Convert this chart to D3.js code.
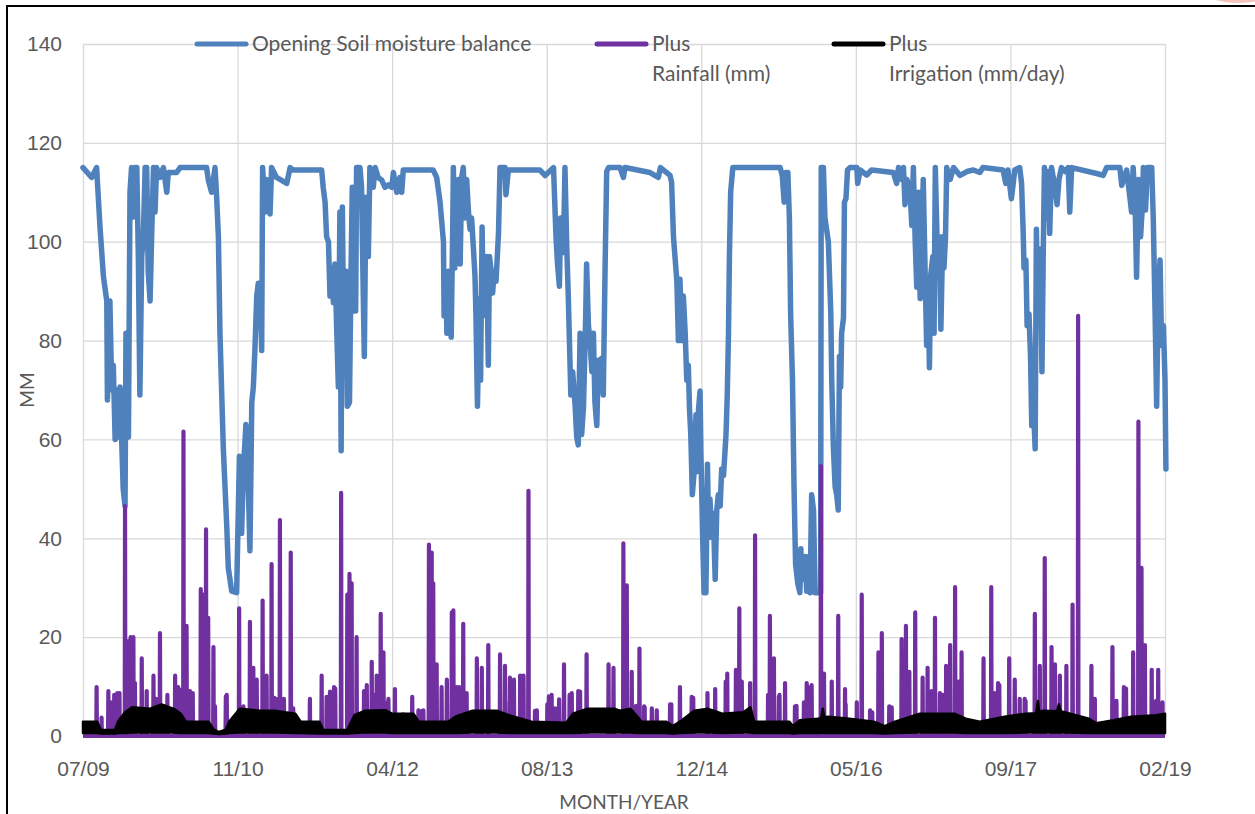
<!DOCTYPE html>
<html>
<head>
<meta charset="utf-8">
<script src="https://cdn.jsdelivr.net/npm/d3@7"></script>
<style>
  body { margin: 0; background: #fff; }
  svg { display: block; font-family: Lato, "Open Sans", sans-serif; }
  .tick text { fill: #595959; font-size: 21px; }
  .grid line { stroke: #d9d9d9; stroke-width: 1.3; }
</style>
</head>
<body>
<div id="chart"></div>
<script>
// x positions are day offsets from the first day (07/09); axis labels every 500 days
var xTickDays = [0, 500, 1000, 1500, 2000, 2500, 3000, 3500];
var xTickLabels = ["07/09", "11/10", "04/12", "08/13", "12/14", "05/16", "09/17", "02/19"];
var yTicks = [0, 20, 40, 60, 80, 100, 120, 140];

// opening soil moisture balance (mm): [day, value]
var soil = [
  [0,115],[28,113],[44,115],[55,103],[66,93],[77,88],[79,68],[87,88],[93,70],[98,75],[104,60],[109,70],[114,60.5],[120,70.6],[125,60],[130,50],[136,46.5],[139,81.5],[147,60.5],[152,110],[157,115],[163,105],[168,115],[174,115],[179,97],[184,69],[190,97],[195,101],[201,115],[206,115],[211,94],[217,88],[222,101],[228,115],[233,106],[238,115],[249,113],[260,115],[271,110],[276,114],[303,114],[314,115],[400,115],[405,112.6],[416,110],[427,115],[432,109.5],[438,101],[443,81.5],[454,58],[465,42.5],[470,34],[481,29.3],[497,29],[506,56.6],[513,41],[519,54],[527,63],[535,50],[540,37.5],[546,67.5],[551,70.6],[556,78],[562,89],[567,91.6],[573,91.6],[578,78],[581,115],
  [589,106],[594,112.6],[605,105.6],[610,115],[626,113],[659,111.8],[670,115],[680,114.5],[772,114.5],[777,111],[783,108],[788,101],[794,100],[799,89],[804,94.7],[810,87.7],[815,95.5],[821,81.5],[826,70.6],[831,106],[835,57.7],[839,107],[844,75],[851,94],[855,66.7],[862,67.5],[867,94],[871,111],[878,86],[882,86],[885,115],[896,115],[901,111],[907,87.7],[910,76.8],[915,109],[923,97],[928,115],[939,111],[945,115],[955,113],[966,112.5],[977,111],[988,111.5],[999,111],[1004,114],[1015,110],[1025,113],[1031,110],[1036,114.5],[1133,114.5],[1144,113],[1155,108],[1166,100],
  [1168,85],[1174,92],[1177,81.5],[1182,94],[1191,80.7],[1196,103],[1198,115],[1203,94.7],[1209,103],[1214,112.6],[1220,95.5],[1225,113],[1230,115],[1236,104.8],[1241,112.6],[1247,106],[1252,102.5],[1257,104.8],[1263,98.6],[1268,93],[1271,85.4],[1276,66.7],[1282,88.5],[1286,72],[1291,103],[1295,85],[1301,89],[1306,97],[1311,75],[1315,97],[1319,94.7],[1325,89.6],[1330,94],[1336,92],[1344,101.7],[1349,115],[1365,115],[1368,109.5],[1376,114.5],[1478,114.5],[1495,113.4],[1522,115],[1530,101],[1535,95.5],[1541,91],[1545,104.8],[1554,97.8],[1559,115],[1565,98.6],[1570,88.5],[1578,69],[1584,73.7],[1592,66.7],[1597,60.5],[1602,58.9],[1608,81.5],[1613,61],[1619,66.7],[1626,84.6],[1629,95.5],[1635,83],[1640,80],[1646,73.7],[1651,81.5],[1656,67.5],[1662,62.8],[1667,76],[1673,69.8],[1678,76.4],[1683,69],[1689,95.5],[1694,114.2],[1700,115],
  [1737,115],[1748,113],[1753,115],[1834,114],[1861,113],[1868,115],[1899,113.4],[1904,112],[1910,101],[1921,92],[1926,80],[1931,92.4],[1937,80],[1942,89],[1948,81.5],[1953,72],[1958,75],[1962,66],[1966,61],[1971,48.8],[1977,53.5],[1983,65],[1987,53.5],[1991,66],[1996,69.8],[1999,56.6],[2005,38.7],[2009,29],[2015,29],[2020,55],[2024,40.2],[2028,48],[2034,40.2],[2039,45],[2045,31.7],[2050,45.7],[2055,48.8],[2061,46.5],[2066,54],[2072,52.7],[2080,61],[2084,69],[2088,81.5],[2091,97],[2095,110],[2102,115],[2255,115],[2262,113.4],[2268,108],[2273,114],[2280,114],[2285,104.8],[2289,85.4],[2295,72],[2300,50.4],[2305,34.8],[2312,30.9],[2319,29],
  [2322,37.9],[2325,31.7],[2330,34],[2336,36.3],[2341,29.3],[2346,36.3],[2352,29],[2357,48.8],[2363,45.7],[2368,29],[2386,29],[2388,115],[2395,115],[2400,104.8],[2411,100],[2419,85.4],[2422,72],[2427,58.9],[2433,50.4],[2438,48.8],[2443,45.7],[2447,76.8],[2451,70.6],[2454,81.5],[2460,84.6],[2463,108],[2468,108.7],[2473,114.5],[2481,115],[2503,115],[2506,111.8],[2514,114.5],[2535,113.5],[2551,114.5],[2621,114],[2632,111.8],[2638,115],[2648,112.6],[2654,115],[2659,107.5],[2665,112.6],[2675,110.7],[2681,103.3],[2686,115],[2692,100],[2697,90.8],[2702,110],[2708,88.5],[2713,100],[2718,112.6],[2724,94],[2729,79],[2735,85.4],[2738,74.5],[2742,93.2],[2749,97],[2753,81.5],[2757,115],[2764,97],[2770,101],[2775,82.3],[2781,101],[2785,94.7],[2790,101],[2794,115],[2805,112.6],[2816,115],[2837,113.4],[2859,114.2],[2880,114.5],
  [2901,114],[2911,115],[2976,114.5],[2985,111.8],[2992,114.5],[3003,108.7],[3009,111.8],[3014,114.5],[3030,115],[3036,111.8],[3041,102.5],[3044,94.7],[3050,96.3],[3054,83],[3060,85.4],[3065,76.8],[3069,62.8],[3076,64.4],[3080,58.1],[3084,102.5],[3089,83],[3093,98.6],[3097,97.8],[3102,73.7],[3106,97],[3110,115],[3117,104.8],[3122,114.2],[3127,101.7],[3133,115],[3144,111],[3151,107.5],[3157,112.6],[3165,115],[3176,114.2],[3187,115],[3192,106],[3198,115],[3279,113.8],[3300,113.4],[3311,115],[3354,115],[3360,111.4],[3376,114.5],[3392,106],[3397,115],[3403,108.7],[3408,92.8],[3414,112.6],[3421,101],[3427,107.5],[3430,115],[3437,106.4],[3443,115],[3457,115],[3462,104.8],[3468,85.4],[3473,66.7],[3478,89.3],[3484,96.3],[3489,79],[3495,83],[3500,72],[3503,54]
];

// rainfall (mm): wet days [day, value]; all other days ~0
var rain = [
  [44,9.9],[60,3.7],[82,9.1],[93,6.8],[101,8.3],[111,8.7],[118,8.7],[136,46.5],[147,19.2],[154,20],[163,20],[168,10.7],[190,15.7],[206,9.1],[228,12.2],[236,7.5],[249,20.8],[260,6],[273,8.3],[298,12.2],[308,9.9],[316,9.3],[325,61.6],[335,22.3],[346,9.1],[355,8.7],[381,29.7],[389,28.6],[398,41.8],[405,23.9],[422,18],[427,6],[462,8],[465,8.3],[505,25.8],[519,6],[540,23.1],[551,13.8],[562,11.4],[581,27.4],
  [594,12.2],[610,34.8],[619,7.7],[624,7.5],[637,43.7],[650,7.5],[672,37.1],[680,5.6],[734,7.5],[772,12.2],[788,7.9],[797,6.8],[799,9],[812,9.9],[816,9.6],[835,49.2],[855,28.6],[862,32.8],[869,30.9],[885,20],[909,9.1],[918,10.3],[934,15],[945,8.3],[950,12.2],[963,24.7],[972,16.9],[979,6.7],[988,7.5],[1009,9.5],[1036,4.4],[1065,7.9],[1085,5.2],[1097,5.1],[1101,5.2],[1119,38.7],[1128,37.1],[1133,30.9],[1144,14.5],[1160,9.9],
  [1177,11.4],[1193,25],[1198,25.4],[1209,9.9],[1217,9.9],[1226,8],[1230,22.7],[1241,8.7],[1274,15.7],[1290,13.8],[1311,18.4],[1349,16.5],[1365,14.2],[1366,7],[1381,11.8],[1394,11.4],[1414,12.2],[1425,12.2],[1441,49.6],[1462,5.1],[1468,5.2],[1502,6.4],[1507,8],[1516,8.3],[1527,5.6],[1540,7.4],[1556,14.5],[1574,8.3],[1581,8.7],[1602,9.1],[1608,9],[1629,16.5],[1700,14.5],[1716,13.8],[1748,39],
  [1759,30.5],[1775,13],[1789,6.1],[1800,17.7],[1815,6],[1817,5.8],[1840,5.6],[1856,5.2],[1899,6.4],[1903,6.4],[1931,9.9],[1969,7.9],[1974,7.7],[2020,8.7],[2045,9.5],[2079,11],[2084,12.6],[2112,13.4],[2123,25.8],[2131,11],[2158,10.7],[2174,40.6],[2216,8.3],[2222,24.3],[2235,15.7],[2251,8],[2253,8.3],[2271,10.7],[2303,6],[2308,6.1],[2332,6.8],
  [2341,10.7],[2353,9.9],[2357,10.3],[2387,54.6],[2397,12.6],[2422,11],[2443,24.3],[2465,9.5],[2467,6.4],[2503,6.8],[2519,28.6],[2546,5.2],[2553,4.8],[2573,16.9],[2584,20.8],[2608,6],[2616,5.8],[2648,19.6],[2662,22.3],[2673,13],[2692,25],[2716,11.8],[2732,13.8],[2745,9.1],[2756,23.9],[2772,8.7],[2781,8.3],[2792,14.2],[2805,18.4],[2821,30.1],[2832,11],[2842,16.9],[2913,15.7],
  [2938,30.1],[2949,8.7],[2960,10.7],[2964,10.3],[2996,15.7],[3014,11.4],[3030,7.5],[3046,7.5],[3049,7.1],[3079,24.7],[3095,14.2],[3111,36],[3133,18],[3144,14.5],[3160,12.2],[3181,14.2],[3201,26.6],[3219,85],[3262,14.2],[3273,7.5],[3330,18],[3343,7.1],[3367,9.9],[3374,9.6],[3397,16.9],[3414,63.6],[3424,34],[3435,18.4],[3457,13.4],[3471,7.1],[3478,13.4],[3492,6.8]
];

// irrigation (mm/day): daily values swing inside a band, [day, low, high]
var irrigation = [
  [0,0.6,2.9],[46,0.6,2.9],[58,0.5,1.2],[103,0.5,1.2],[114,0.6,3.0],[136,0.6,4.8],[159,0.7,5.8],[215,0.7,5.5],[254,0.7,6.4],[294,0.7,5.5],[316,0.6,4.5],[333,0.6,2.9],[406,0.6,2.9],[423,0.5,1.3],[440,0.4,0.8],[462,0.5,1.3],[473,0.6,2.9],[507,0.7,5.5],[574,0.7,5.1],[619,0.7,5.1],[687,0.6,4.5],[704,0.6,2.9],[765,0.5,2.9],[777,0.5,1.2],[855,0.5,1.2],[878,0.6,4.2],[911,0.7,5.1],[979,0.7,5.2],[1001,0.6,4.5],[1069,0.6,4.5],[1086,0.6,2.9],[1181,0.6,2.9],[1204,0.6,3.9],[1260,0.7,5.1],[1338,0.7,5.1],[1383,0.6,4.1],[1451,0.6,2.9],[1563,0.6,2.7],[1585,0.6,4.5],[1630,0.7,5.5],[1720,0.7,5.5],
  [1737,0.7,5.1],[1771,0.7,5.5],[1794,0.6,3.9],[1806,0.6,2.9],[1886,0.6,2.9],[1908,0.5,2.0],[1931,0.6,2.9],[1977,0.7,5.1],[2022,0.7,5.5],[2068,0.6,4.5],[2136,0.7,4.8],[2159,0.7,5.8],[2171,0.6,2.9],[2285,0.6,2.9],[2296,0.5,2.0],[2319,0.6,3.2],[2376,0.6,3.5],[2388,0.6,3.6],[2393,0.7,5.5],[2398,0.6,3.8],[2410,0.6,3.9],[2479,0.6,3.5],[2558,0.6,2.9],[2593,0.5,2.0],[2627,0.6,2.9],[2707,0.7,4.5],[2821,0.7,4.5],[2855,0.6,3.5],[2901,0.6,2.9],[2981,0.6,3.9],[3049,0.7,4.5],[3083,0.7,4.6],[3089,0.7,7.1],[3093,0.7,4.8],[3106,0.7,5.1],[3151,0.7,5.0],[3157,0.7,6.4],[3162,0.7,5.0],[3175,0.7,4.8],[3254,0.6,3.5],[3277,0.6,2.6],[3334,0.6,3.2],[3391,0.6,3.9],[3471,0.6,4.2],[3500,0.6,4.5]
];

var W = 1255, H = 814;
var plotL = 83, plotR = 1165, plotT = 44, plotB = 736;

var svg = d3.select("#chart").append("svg")
  .attr("width", W)
  .attr("height", H);

svg.append("rect").attr("width", W).attr("height", H).attr("fill", "#fff");

// faint mark cut off at the top right corner
svg.append("ellipse").attr("cx", 1238).attr("cy", -6).attr("rx", 30).attr("ry", 9).attr("fill", "#f4c4bc");
svg.append("ellipse").attr("cx", 1238).attr("cy", -6).attr("rx", 18).attr("ry", 6).attr("fill", "#e0675a");

// chart frame (only the left and top edges are inside the picture)
svg.append("path")
  .attr("d", "M7,814 L7,6 L1255,6")
  .attr("fill", "none")
  .attr("stroke", "#000")
  .attr("stroke-width", 2);

var x = d3.scaleLinear().domain([0, 3500]).range([plotL, plotR]);
var y = d3.scaleLinear().domain([0, 140]).range([plotB, plotT]);

// horizontal gridlines + y labels
var yAxis = d3.axisLeft(y).tickValues(yTicks).tickSize(-(plotR - plotL)).tickPadding(21);
svg.append("g")
  .attr("class", "grid")
  .attr("transform", "translate(" + plotL + ",0)")
  .call(yAxis)
  .call(function(g) { g.select(".domain").remove(); });

// vertical gridlines + x labels
var xAxis = d3.axisBottom(x).tickValues(xTickDays)
  .tickFormat(function(d, i) { return xTickLabels[i]; })
  .tickSize(-(plotB - plotT)).tickPadding(25);
svg.append("g")
  .attr("class", "grid")
  .attr("transform", "translate(0," + plotB + ")")
  .call(xAxis)
  .call(function(g) { g.select(".domain").remove(); });

// soil moisture line
var line = d3.line()
  .x(function(d) { return x(d[0]); })
  .y(function(d) { return y(d[1]); });

svg.append("path")
  .datum(soil)
  .attr("fill", "none")
  .attr("stroke", "#4f81bd")
  .attr("stroke-width", 5.5)
  .attr("stroke-linejoin", "round")
  .attr("stroke-linecap", "round")
  .attr("d", line);

// rainfall: dry days at zero between the wet days
var rainPts = [[0, 0]];
rain.slice().sort(function(a, b) { return a[0] - b[0]; }).forEach(function(r) {
  rainPts.push([r[0] - 1, 0], [r[0], r[1]], [r[0] + 1, 0]);
});
rainPts.push([3500, 0]);

svg.append("path")
  .datum(rainPts)
  .attr("fill", "none")
  .attr("stroke", "#7030a0")
  .attr("stroke-width", 4.2)
  .attr("stroke-linejoin", "round")
  .attr("d", line);

// irrigation band
var band = d3.area()
  .x(function(d) { return x(d[0]); })
  .y0(function(d) { return y(d[1]); })
  .y1(function(d) { return y(d[2]); });

svg.append("path")
  .datum(irrigation)
  .attr("fill", "#000")
  .attr("stroke", "#000")
  .attr("stroke-width", 2.5)
  .attr("stroke-linejoin", "round")
  .attr("d", band);

// legend
var legend = [
  { x: 197, color: "#4f81bd", lines: ["Opening Soil moisture balance"] },
  { x: 597, color: "#7030a0", lines: ["Plus", "Rainfall (mm)"] },
  { x: 834, color: "#000", lines: ["Plus", "Irrigation (mm/day)"] }
];
legend.forEach(function(l) {
  svg.append("line")
    .attr("x1", l.x).attr("x2", l.x + 49)
    .attr("y1", 44).attr("y2", 44)
    .attr("stroke", l.color)
    .attr("stroke-width", 5)
    .attr("stroke-linecap", "round");
  l.lines.forEach(function(t, i) {
    svg.append("text")
      .attr("x", l.x + 55)
      .attr("y", 44 + i * 30)
      .attr("dy", "0.35em")
      .attr("fill", "#595959")
      .style("font-size", "21px")
      .text(t);
  });
});

// axis titles
svg.append("text")
  .attr("x", (plotL + plotR) / 2)
  .attr("y", 802)
  .attr("dy", "0.35em")
  .attr("text-anchor", "middle")
  .attr("fill", "#595959")
  .style("font-size", "19px")
  .text("MONTH/YEAR");

svg.append("text")
  .attr("transform", "translate(27," + (plotT + plotB) / 2 + ") rotate(-90)")
  .attr("dy", "0.35em")
  .attr("text-anchor", "middle")
  .attr("fill", "#595959")
  .style("font-size", "19px")
  .text("MM");
</script>
</body>
</html>
